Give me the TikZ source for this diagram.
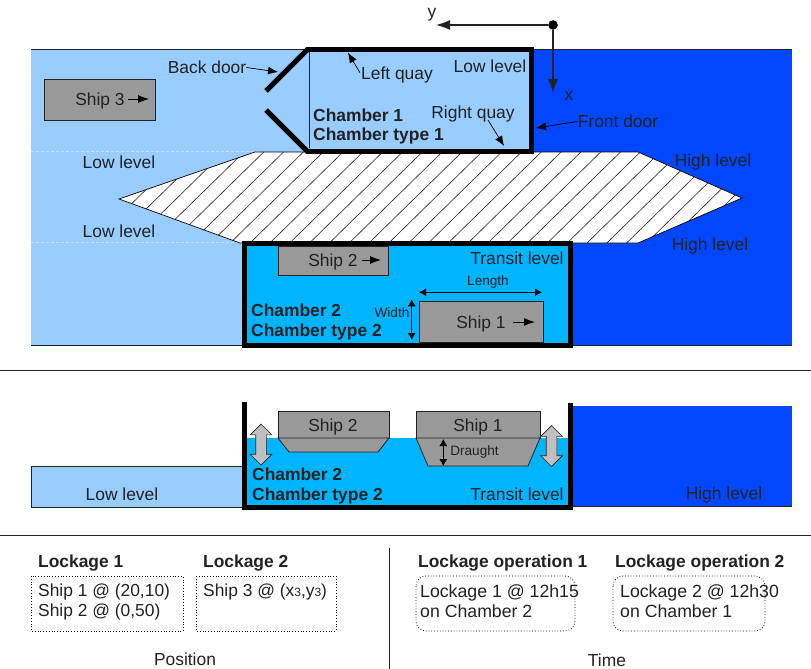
\documentclass[tikz,border=0pt]{standalone}
\usepackage{fontspec}
\setmainfont{Liberation Sans}
\usetikzlibrary{arrows.meta,shapes.arrows}

\definecolor{lowblue}{HTML}{99CCFF}
\definecolor{highblue}{HTML}{0047FF}
\definecolor{transitblue}{HTML}{00B4FF}
\definecolor{shipgray}{HTML}{999999}
\definecolor{inkgray}{HTML}{222222}

\tikzset{
	label/.style={font=\fontsize{17.4}{20}\selectfont, text=inkgray, inner sep=0pt, yshift=-1.5pt},
	boldlabel/.style={label, font=\fontsize{17.4}{20}\selectfont\bfseries, align=left},
	timelabel/.style={label, font=\fontsize{17.7}{20}\selectfont, align=left},
	small/.style={font=\fontsize{13.6}{15}\selectfont, text=inkgray, inner sep=0pt},
	ship/.style={draw=inkgray, fill=shipgray, line width=0.8pt},
	wall/.style={line width=5pt},
	pointer/.style={-{Latex[length=10pt,width=8pt]}, line width=0.7pt},
	motion/.style={-{Latex[length=11pt,width=8pt]}, line width=0.9pt},
	axis/.style={-{Latex[length=14pt,width=10pt]}, line width=1.2pt, inkgray},
	measure/.style={{Latex[length=7pt,width=8pt]}-{Latex[length=7pt,width=8pt]}, line width=0.9pt},
	updown/.style={double arrow, draw=inkgray, fill=lightgray, line width=0.7pt, rotate=90,
		minimum height=41pt, double arrow head extend=5.5pt, inner sep=0pt},
	plan/.style={draw, dotted, line width=0.8pt},
	rule/.style={line width=0.9pt, inkgray}
}

\begin{document}
\begin{tikzpicture}[x=1pt, y=-1pt]
	
	\useasboundingbox (0, 0) rectangle (811, 669);
	
	% Water on both sides, seen from above
	\fill[lowblue] (31, 49) rectangle (310, 346);
	\fill[highblue] (530, 49) rectangle (792, 346);
	\draw[line width=0.8pt, inkgray] (31, 49) -- (308, 49);
	\draw[line width=0.8pt, inkgray] (533, 49) -- (792, 49);
	\draw[line width=0.8pt, inkgray] (31, 345.5) -- (243, 345.5);
	\draw[line width=0.8pt, inkgray] (571, 345.5) -- (792, 345.5);
	\draw[densely dashed, white!40!lowblue, line width=0.6pt] (31, 151) -- (260, 151);
	\draw[densely dashed, white!40!lowblue, line width=0.6pt] (31, 242) -- (240, 242);
	
	% Hatched bank between the chambers
	\coordinate (P1) at (119, 199);
	\coordinate (P2) at (255, 152);
	\coordinate (P3) at (638, 152);
	\coordinate (P4) at (742, 198);
	\coordinate (P5) at (638, 243);
	\coordinate (P6) at (240, 243);
	\fill[white] (P1) -- (P2) -- (P3) -- (P4) -- (P5) -- (P6) -- cycle;
	\begin{scope}
		\clip (P1) -- (P2) -- (P3) -- (P4) -- (P5) -- (P6) -- cycle;
		\foreach \x in {12.2, 32.02, ..., 700} {
			\draw[line width=0.6pt, inkgray] (\x, 243) -- (\x + 93, 152);
		}
	\end{scope}
	\draw[line width=0.7pt, black] (P1) -- (P2) -- (P3) -- (P4) -- (P5) -- (P6) -- cycle;
	
	% Chamber 1
	\fill[lowblue] (309, 49) rectangle (533, 152);
	\draw[line width=0.7pt, inkgray] (309, 49) -- (309, 148);
	\draw[wall] (306, 49.5) -- (531.5, 49.5) -- (531.5, 151.5) -- (306, 151.5);
	\draw[wall] (308, 49) -- (266, 91);
	\draw[wall] (308, 152) -- (266, 110);
	
	% Chamber 2
	\fill[transitblue] (243, 243) rectangle (571, 346);
	\draw[wall] (244.2, 243.3) rectangle (570.5, 345);
	
	% Ships seen from above
	\draw[ship] (44, 79) rectangle (155, 120);
	\draw[ship] (278, 246) rectangle (388.7, 275.7);
	\draw[ship] (419, 301) rectangle (543, 342.5);
	
	\node[label] (ship3) at (100, 100) {Ship 3};
	\coordinate (ship3tip) at (149, 99);
	\draw[motion] (128, 99) -- (ship3tip);
	\node[label] (ship2) at (333, 260) {Ship 2};
	\coordinate (ship2tip) at (381, 260);
	\draw[motion] (362, 260) -- (ship2tip);
	\node[label] (ship1) at (481, 322) {Ship 1};
	\coordinate (ship1tip) at (535, 322);
	\draw[motion] (513, 322) -- (ship1tip);
	
	% Axes
	\node[circle, fill=black, inner sep=3.4pt] (origin) at (553, 25) {};
	\node[label] (axisy) at (432, 13) {y};
	\node[label] (axisx) at (569, 94) {x};
	\coordinate (ytip) at (436, 25);
	\coordinate (xtip) at (553, 93);
	\draw[axis] (origin) -- (ytip);
	\draw[axis] (origin) -- (xtip);
	
	% Labels of the plan view
	\node[label] (backdoor) at (207, 66) {Back door};
	\coordinate (backtip) at (278, 72);
	\draw[pointer] (backdoor.east) -- (backtip);
	\node[label] (leftquay) at (397, 74) {Left quay};
	\coordinate (lefttip) at (348, 52.7);
	\draw[pointer] (360, 72.7) -- (lefttip);
	\node[label] (lowlevel) at (490, 65) {Low level};
	\node[label] (rightquay) at (473, 113) {Right quay};
	\coordinate (righttip) at (504, 146);
	\draw[pointer] (488, 120) -- (righttip);
	\node[label] (frontdoor) at (618, 120) {Front door};
	\coordinate (fronttip) at (536, 128);
	\draw[pointer] (frontdoor.west) -- (fronttip);
	\node[boldlabel, anchor=west] (chamber1) at (313, 125) {Chamber 1\\Chamber type 1};
	\node[label] (low1) at (119, 161) {Low level};
	\node[label] (low2) at (119, 230) {Low level};
	\node[label] (high1) at (713, 161) {High level};
	\node[label] (high2) at (710, 244) {High level};
	\node[label] (transit1) at (517, 257) {Transit level};
	\node[boldlabel, anchor=west] (chamber2) at (251, 320) {Chamber 2\\Chamber type 2};
	
	% Ship dimensions
	\node[small] (length) at (488, 282) {Length};
	\node[small] (width) at (392, 312.3) {Width};
	\coordinate (lengtha) at (419, 292.3);
	\coordinate (lengthb) at (542, 292.3);
	\coordinate (widtha) at (411.7, 299.3);
	\coordinate (widthb) at (411.7, 340);
	\draw[measure] (lengtha) -- (lengthb);
	\draw[measure] (widtha) -- (widthb);
	
	% Separators
	\coordinate (sepa) at (0, 370);
	\coordinate (sepb) at (811, 370);
	\coordinate (sepc) at (0, 535);
	\coordinate (sepd) at (811, 535);
	\draw[rule] (sepa) -- (sepb);
	\draw[rule] (sepc) -- (sepd);
	
	% Side view
	\draw[line width=0.7pt, inkgray, fill=lowblue] (31, 466) rectangle (243, 507);
	\fill[highblue] (571, 406) rectangle (792, 507);
	\draw[line width=0.7pt, inkgray] (571, 506.5) -- (792, 506.5);
	\fill[transitblue] (244, 438) rectangle (570, 507);
	\draw[ship] (278, 411) rectangle (389, 438);
	\draw[ship] (278, 438) -- (389, 438) -- (378, 452) -- (289, 452) -- cycle;
	\draw[ship] (416, 411) rectangle (540, 438);
	\draw[ship] (416, 438) -- (540, 438) -- (528, 466) -- (428, 466) -- cycle;
	\draw[wall] (244.2, 402) -- (244.2, 507) -- (570.5, 507) -- (570.5, 402.5);
	
	\node[updown] (lift2) at (261, 444.5) {\rule{0pt}{10pt}};
	\node[updown] (lift1) at (551.5, 446) {\rule{0pt}{10pt}};
	\node[label] (side2) at (333, 425) {Ship 2};
	\node[label] (side1) at (478, 425) {Ship 1};
	\node[small] (draught) at (474.5, 452.3) {Draught};
	\coordinate (drafta) at (443.3, 439);
	\coordinate (draftb) at (443.3, 466);
	\draw[measure] (drafta) -- (draftb);
	\node[boldlabel, anchor=west] (chamber3) at (252, 484) {Chamber 2\\Chamber type 2};
	\node[label] (low3) at (122, 493) {Low level};
	\node[label] (transit2) at (517, 493) {Transit level};
	\node[label] (high3) at (724, 493) {High level};
	
	% Position and time
	\coordinate (vertica) at (389, 548);
	\coordinate (verticb) at (389, 669);
	\draw[rule] (vertica) -- (verticb);
	
	\draw[plan] (31, 576) rectangle (183, 631);
	\draw[plan] (196, 576) rectangle (336, 631);
	\draw[plan, rounded corners=10pt] (416, 576) rectangle (575, 631);
	\draw[plan, rounded corners=10pt] (613, 576) rectangle (765, 631);
	
	\node[boldlabel, anchor=west] (lock1) at (38, 562) {Lockage 1};
	\node[boldlabel, anchor=west] (lock2) at (203, 562) {Lockage 2};
	\node[boldlabel, anchor=west] (oper1) at (418, 562) {Lockage operation 1};
	\node[boldlabel, anchor=west] (oper2) at (615, 562) {Lockage operation 2};
	\node[label, anchor=west, align=left] (text1) at (38, 600) {Ship 1 @ (20,10)\\Ship 2 @ (0,50)};
	\node[label, anchor=west] (text2) at (203, 590) {Ship 3 @ (x{\fontsize{12}{12}\selectfont 3},y{\fontsize{12}{12}\selectfont 3})};
	\node[timelabel, anchor=west] (text3) at (420, 600) {Lockage 1 @ 12h15\\on Chamber 2};
	\node[timelabel, anchor=west] (text4) at (620, 600) {Lockage 2 @ 12h30\\on Chamber 1};
	\node[label] (position) at (185, 658) {Position};
	\node[label] (time) at (607, 659) {Time};
	
\end{tikzpicture}
\end{document}
